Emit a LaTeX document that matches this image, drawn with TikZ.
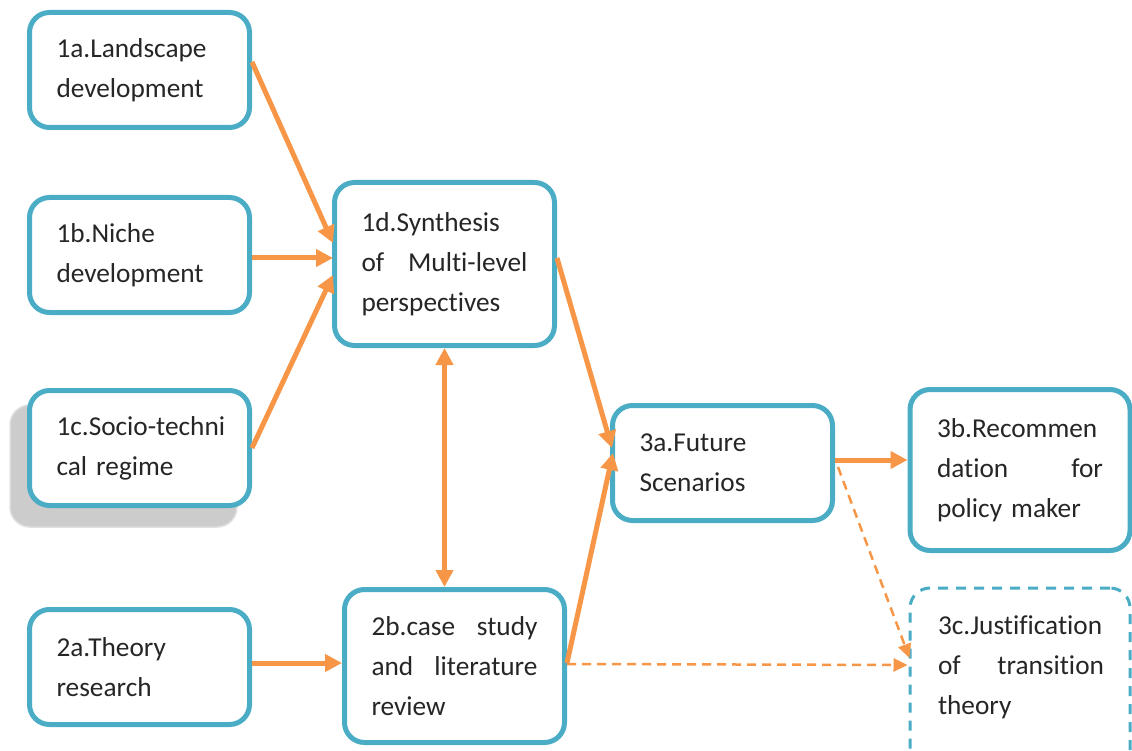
\documentclass[tikz,border=0pt]{standalone}
\usepackage{fontspec}
\setmainfont[Ligatures={NoCommon}]{Carlito}
\usetikzlibrary{arrows.meta,calc}
\definecolor{boxblue}{HTML}{4BACC6}
\definecolor{arrorange}{HTML}{F79646}
\definecolor{txtgray}{HTML}{262626}
\tikzset{
  box/.style={draw=boxblue, line width=5pt, rounded corners=20pt, fill=white,
    minimum width=220pt, minimum height=115pt, text width=166pt, align=left,
    inner sep=0pt, text=txtgray, font=\fontsize{27.3}{40}\selectfont},
  boxtext/.style={text width=166pt, align=left, inner sep=0pt, text=txtgray,
    font=\fontsize{27.3}{40}\selectfont},
  flow/.style={draw=arrorange, line width=5pt, -{Triangle[length=17pt,width=17pt]}},
  flow2/.style={draw=arrorange, line width=5pt, {Triangle[length=17pt,width=17pt]}-{Triangle[length=17pt,width=17pt]}},
  dflow/.style={draw=arrorange, line width=2.5pt, dash pattern=on 9pt off 6pt, -{Triangle[length=14pt,width=13pt]}},
}
\begin{document}
\begin{tikzpicture}[x=1pt,y=-1pt]
\useasboundingbox (0,0) rectangle (1132,751);
% shadow of 1c
\draw[draw=gray!25, fill=gray!40, rounded corners=20pt, line width=1.5pt] (10,405) rectangle (237,527);
\node[box] (a1) at (139.5,70) {1a.Landscape\\development};
\node[box] (b1) at (139.5,255) {1b.Niche\\development};
\node[box] (c1) at (139.5,448) {\mbox{1c.Socio-techni}\\cal regime};
\node[box, minimum height=163pt] (d1) at (444.5,264) {1d.Synthesis\\of\hfill Multi-level\\perspectives};
\node[box] (a2) at (139.5,667) {2a.Theory\\research};
\node[box, minimum height=153pt] (b2) at (454.5,666) {2b.case\hfill study\\and\hfill literature\\review};
\node[box] (a3) at (722.5,463) {3a.Future\\Scenarios};
\node[box, minimum height=161pt] (b3) at (1020,470) {3b.Recommen\\dation\hfill for\\policy maker};
\node[box, dashed, dash pattern=on 10pt off 8pt, line width=3pt, minimum height=190pt, text width=0pt] (c3) at (1020,683) {};
\node[boxtext] (c3t) at (1021,667) {3c.Justification\\of\hfill transition\\theory};
% connectors
\draw[flow] ($(a1.east)+(0,-8)$) -- ($(d1.west)+(1,-21)$);
\draw[flow] ($(b1.east)+(0,3)$) -- ($(d1.west)+(1,-6)$);
\draw[flow] ($(c1.east)+(0,0)$) -- ($(d1.west)+(1,11)$);
\draw[flow] ($(d1.east)+(0,-6)$) -- ($(a3.west)+(2,-15)$);
\draw[flow] ($(b2.east)+(0,-3)$) -- ($(a3.west)+(3,-10)$);
\draw[flow] ($(a3.east)+(0,-3)$) -- ($(b3.west)+(0,-10)$);
\draw[flow2] ($(d1.south)+(0,0)$) -- ($(b2.north)+(-10,0)$);
\draw[flow] ($(a2.east)+(0,-4)$) -- ($(b2.west)+(0,-3)$);
\draw[dflow] ($(a3.east)+(3,4)$) -- ($(c3.west)+(1,-25)$);
\draw[dflow] ($(b2.east)+(0,-2)$) -- ($(c3.west)+(-1,-18)$);
\end{tikzpicture}
\end{document}
